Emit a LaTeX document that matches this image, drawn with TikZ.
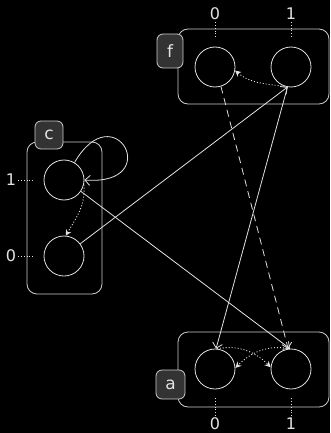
\documentclass[tikz,border=0pt]{standalone}
\usepackage{fontspec}
\setmainfont{DejaVu Sans}
\usetikzlibrary{arrows.meta}
\definecolor{fg}{HTML}{E2E2E2}
\definecolor{boxc}{HTML}{CCCCCC}
\definecolor{tabc}{HTML}{333333}
\begin{document}
\begin{tikzpicture}[x=1pt,y=1pt,
  state/.style={circle,draw=fg,line width=0.8pt,minimum size=40pt,inner sep=0pt},
  grp/.style={draw=boxc,rounded corners=10pt,line width=0.8pt,inner sep=0pt},
  tab/.style={draw=boxc,fill=tabc,rounded corners=6pt,line width=0.8pt,text=fg,
    font=\fontsize{17}{17}\selectfont,inner sep=0pt,minimum width=27pt,minimum height=29pt},
  lab/.style={text=fg,font=\fontsize{16}{16}\selectfont,inner sep=2pt},
  tick/.style={draw=fg,line width=0.8pt,dash pattern=on 0.8pt off 2pt},
  edge/.style={draw=fg,line width=0.8pt,-{Straight Barb[length=5pt,width=10pt]}},
  dedge/.style={draw=fg,line width=0.8pt,dash pattern=on 7pt off 5pt,-{Straight Barb[length=5pt,width=10pt]}},
  pedge/.style={draw=fg,line width=0.9pt,dash pattern=on 1pt off 2pt,-{Stealth[length=6pt,width=6pt]}}
]
\fill[black] (0,0) rectangle (330,-433);
\useasboundingbox (0,0) rectangle (330,-433);
% group boxes
\node[grp,minimum width=151pt,minimum height=75pt] (boxf) at (253.5,-66.5) {};
\node[grp,minimum width=75pt,minimum height=152pt] (boxc) at (64.5,-218) {};
\node[grp,minimum width=151pt,minimum height=75pt] (boxa) at (253.5,-369.5) {};
% tabs
\node[tab,minimum width=26pt,minimum height=34pt] (tabf) at (170,-51) {f};
\node[tab,minimum width=28pt,minimum height=28pt] (tabc) at (49,-135) {c};
\node[tab,minimum width=29pt,minimum height=29pt] (taba) at (170.5,-384.5) {a};
% states
\node[state] (f0) at (215,-67) {};
\node[state] (f1) at (291,-67) {};
\node[state] (c1) at (64,-180) {};
\node[state] (c0) at (64,-256) {};
\node[state] (a0) at (215,-369) {};
\node[state] (a1) at (291,-369) {};
% value labels
\node[lab] (lf0) at (215,-14) {0};
\node[lab] (lf1) at (291,-14) {1};
\node[lab] (lc1) at (11,-180) {1};
\node[lab] (lc0) at (11,-256) {0};
\node[lab] (la0) at (215,-424) {0};
\node[lab] (la1) at (291,-424) {1};
\draw[tick,shorten >=10pt] (lf0) -- (f0);
\draw[tick,shorten >=10pt] (lf1) -- (f1);
\draw[tick,shorten >=9pt] (lc1) -- (c1);
\draw[tick,shorten >=9pt] (lc0) -- (c0);
\draw[tick,shorten >=9pt] (la0) -- (a0);
\draw[tick,shorten >=9pt] (la1) -- (a1);
% edges
\draw[edge] (c0.37) -- (f1.-100);
\draw[edge] (f1.-100) -- (a0.87);
\draw[edge] (c1.-34) -- (a1.93);
\draw[dedge] (f0.-73) -- (a1.98);
\draw[edge] (c1.59) .. controls (115,-93) and (165,-186) .. (c1.0);
\draw[pedge] (c1.-13) to[out=-85,in=60] (c0.85);
\draw[pedge] (f1.-100) to[out=170,in=-40] (f0.-10);
\draw[pedge] (a0.85) to[out=10,in=135] (a1.175);
\draw[pedge] (a1.93) to[out=170,in=45] (a0.3);
\end{tikzpicture}
\end{document}
